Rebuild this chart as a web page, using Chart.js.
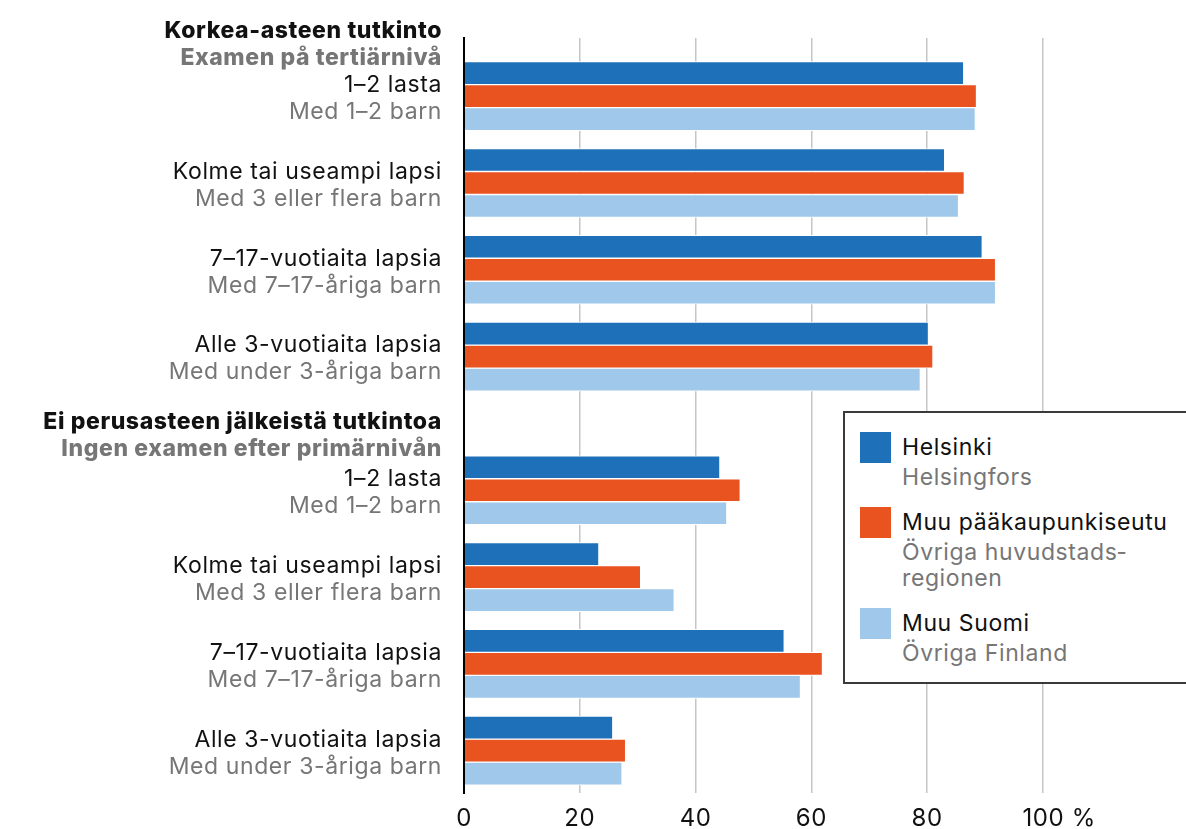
<!DOCTYPE html>
<html lang="fi">
<head>
<meta charset="utf-8">
<title>Lapsiperheet ja koulutus</title>
<script src="https://cdn.jsdelivr.net/npm/chart.js@4/dist/chart.umd.min.js"></script>
<style>
  body { margin: 0; background: #fff; font-family: Inter, sans-serif; }
  #wrap { position: relative; width: 1186px; height: 829px; overflow: hidden; }
  #legend {
    position: absolute; left: 843px; top: 411px; width: 360px; height: 273px;
    box-sizing: border-box; border: 2px solid #3a3a3a; background: #fff;
    padding: 19px 0 0 15px;
  }
  .item { display: flex; align-items: flex-start; margin-bottom: 17px; }
  .swatch { width: 31px; height: 31px; flex: none; }
  .txt { margin-left: 11px; width: 272px; font-size: 23px; letter-spacing: 0.6px; }
  .fi { color: #111; line-height: 30px; }
  .sv { color: #767676; line-height: 26px; margin-top: 2px; }
</style>
</head>
<body>
<div id="wrap">
  <canvas id="chart"></canvas>
  <div id="legend"></div>
</div>
<script>
// section headings (Finnish / Swedish)
const sectionsFi = ['Korkea-asteen tutkinto', 'Ei perusasteen jälkeistä tutkintoa'];
const sectionsSv = ['Examen på tertiärnivå', 'Ingen examen efter primärnivån'];

// categories inside each section
const categoriesFi = ['1–2 lasta', 'Kolme tai useampi lapsi', '7–17-vuotiaita lapsia', 'Alle 3-vuotiaita lapsia'];
const categoriesSv = ['Med 1–2 barn', 'Med 3 eller flera barn', 'Med 7–17-åriga barn', 'Med under 3-åriga barn'];

// series names
const seriesFi = ['Helsinki', 'Muu pääkaupunkiseutu', 'Muu Suomi'];
const seriesSv = ['Helsingfors', 'Övriga huvudstads\u00ADregionen', 'Övriga Finland'];
const seriesColors = ['#1e70b8', '#e8531f', '#9fc8eb'];

// values, %: first four = korkea-aste, last four = ei perusasteen jälkeistä
const helsinki      = [86.2, 82.9, 89.4, 80.1, 44.1, 23.2, 55.2, 25.6];
const otherCapital  = [88.4, 86.3, 91.7, 80.9, 47.6, 30.4, 61.8, 27.8];
const restOfFinland = [88.2, 85.3, 91.7, 78.7, 45.3, 36.2, 58.0, 27.2];

const xTicks = [0, 20, 40, 60, 80, 100];

// vertical layout on a linear y scale: one unit per group, extra gap before section 2
const SECTION_GAP = 0.54;
const HEADER_LEAD = [0.62, 0.66];
const groupPos = i => i + (i >= categoriesFi.length ? SECTION_GAP : 0);
const nGroups = helsinki.length;
const Y_MIN = -0.67;
const Y_MAX = groupPos(nGroups - 1) + 0.49;

// y tick list: headings + categories
const tickEntries = [];
sectionsFi.forEach((title, s) => {
  const first = s * categoriesFi.length;
  tickEntries.push({ pos: groupPos(first) - HEADER_LEAD[s], fi: title, sv: sectionsSv[s], header: true });
  categoriesFi.forEach((c, j) => {
    tickEntries.push({ pos: groupPos(first + j), fi: c, sv: categoriesSv[j], header: false });
  });
});

const toPoints = arr => arr.map((v, i) => ({ x: v, y: groupPos(i) }));
const allSeries = [helsinki, otherCapital, restOfFinland];

const LABEL_RIGHT = 442;   // right edge of the category labels
const PLOT_LEFT = 464;
const PLOT_RIGHT = 1043;
const LABEL_SIZE = 23;

const labelFont = ctx => {
  const e = tickEntries[ctx.index];
  return { family: 'Inter', size: LABEL_SIZE, weight: e && e.header ? '800' : '400' };
};

// a little letter spacing on all canvas text
const spacing = {
  id: 'spacing',
  beforeDraw: chart => { chart.ctx.letterSpacing = '0.6px'; }
};

// second (Swedish, grey) line of every y label, placed with the y scale
const secondLine = {
  id: 'secondLine',
  afterDraw(chart) {
    const { ctx } = chart;
    const y = chart.scales.y;
    ctx.save();
    ctx.letterSpacing = '0.6px';
    ctx.textAlign = 'right';
    ctx.textBaseline = 'middle';
    ctx.fillStyle = '#767676';
    tickEntries.forEach(e => {
      ctx.font = (e.header ? '800 ' : '400 ') + LABEL_SIZE + 'px Inter';
      ctx.fillText(e.sv, LABEL_RIGHT, y.getPixelForValue(e.pos) + 16);
    });
    ctx.restore();
  }
};

new Chart(document.getElementById('chart'), {
  type: 'bar',
  plugins: [spacing, secondLine],
  data: {
    datasets: allSeries.map((arr, k) => ({
      label: seriesFi[k],
      data: toPoints(arr),
      backgroundColor: seriesColors[k],
      borderColor: '#fff',
      borderWidth: { top: 1, bottom: 1, left: 0, right: 0 },
      barThickness: 23
    }))
  },
  options: {
    indexAxis: 'y',
    responsive: true,
    maintainAspectRatio: false,
    animation: false,
    layout: { padding: { top: 38, right: 1186 - PLOT_RIGHT, bottom: -9, left: 0 } },
    plugins: { legend: { display: false }, tooltip: { enabled: false } },
    scales: {
      x: {
        type: 'linear', position: 'bottom', min: 0, max: 100,
        afterBuildTicks: s => { s.ticks = xTicks.map(v => ({ value: v })); },
        afterFit: s => { s.height = 40; },
        grid: {
          color: ctx => (ctx.tick && ctx.tick.value === 0 ? 'rgba(0,0,0,0)' : '#c6c6c6'),
          lineWidth: 1.5, drawTicks: false
        },
        border: { display: false },
        ticks: {
          padding: 11, color: '#111', font: { family: 'Inter', size: 24 },
          callback: v => (v === 100 ? '\u2007\u2007100 %' : v)
        }
      },
      y: {
        type: 'linear', position: 'left', reverse: true, offset: false,
        min: Y_MIN, max: Y_MAX,
        afterBuildTicks: s => { s.ticks = tickEntries.map(e => ({ value: e.pos })); },
        afterFit: s => { s.width = PLOT_LEFT; },
        grid: { display: false, drawTicks: false },
        border: { display: true, color: '#000', width: 2, z: 1 },
        ticks: {
          autoSkip: false, padding: PLOT_LEFT - LABEL_RIGHT, labelOffset: -11,
          color: '#111', font: labelFont,
          callback: (v, i) => tickEntries[i].fi
        }
      }
    }
  }
});

// legend as html
const legend = document.getElementById('legend');
seriesFi.forEach((name, k) => {
  const item = document.createElement('div');
  item.className = 'item';
  item.innerHTML = '<div class="swatch" style="background:' + seriesColors[k] + '"></div>' +
    '<div class="txt"><div class="fi"></div><div class="sv"></div></div>';
  item.querySelector('.fi').textContent = name;
  item.querySelector('.sv').textContent = seriesSv[k];
  legend.appendChild(item);
});
</script>
</body>
</html>
